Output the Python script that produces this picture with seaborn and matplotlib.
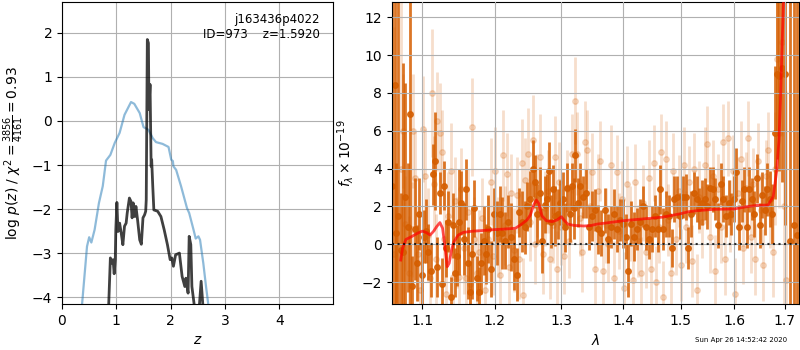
# Redshift fit summary: p(z) on the left, G141 spectrum + best-fit model on the right
import numpy as np
import matplotlib
matplotlib.use('Agg')
import matplotlib.pyplot as plt
from matplotlib.ticker import FixedLocator, FixedFormatter, NullLocator
import seaborn as sns

# p(z) curves
z_prior = [0.33, 0.37, 0.46, 0.50, 0.54, 0.60, 0.68, 0.75, 0.81, 0.89, 0.97, 1.06, 1.15,
           1.27, 1.33, 1.43, 1.50, 1.59, 1.67, 1.73, 1.85, 1.96, 2.01, 2.04, 2.05, 2.10,
           2.19, 2.30, 2.34, 2.42, 2.46, 2.51, 2.54, 2.60, 2.65, 2.69, 2.73]
logp_prior = [-4.6, -4.15, -2.85, -2.64, -2.76, -2.47, -1.86, -1.48, -0.90, -0.77, -0.50,
              -0.27, 0.14, 0.43, 0.39, 0.18, -0.14, -0.20, -0.39, -0.48, -0.52, -0.59,
              -0.88, -0.91, -1.03, -1.11, -1.48, -1.98, -2.09, -2.47, -2.67, -2.62, -2.70,
              -3.23, -3.76, -4.15, -4.6]

z_fit = [0.84, 0.86, 0.89, 0.92, 0.94, 0.96, 0.98, 0.99, 1.01, 1.03, 1.06, 1.09, 1.12,
         1.15, 1.18, 1.20, 1.24, 1.27, 1.29, 1.31, 1.34, 1.36, 1.39, 1.43, 1.46, 1.49,
         1.52, 1.54, 1.55, 1.57, 1.59, 1.60, 1.62, 1.64, 1.65, 1.67, 1.69, 1.76, 1.82,
         1.88, 1.94, 1.99, 2.02, 2.05, 2.09, 2.16, 2.21, 2.26, 2.28, 2.32, 2.34, 2.37,
         2.39, 2.43, 2.48, 2.53, 2.56, 2.59, 2.62]
logp_fit = [-4.8, -4.15, -3.11, -3.23, -3.15, -3.47, -3.15, -2.47, -1.85, -2.51, -2.32,
            -2.55, -2.81, -2.39, -2.32, -2.09, -1.75, -1.83, -2.20, -1.86, -2.17, -1.94,
            -2.24, -2.70, -2.80, -2.20, -2.13, -2.05, -1.79, 1.85, 1.77, 0.26, 0.83,
            -1.03, -0.88, -1.48, -2.02, -2.05, -2.17, -2.47, -2.81, -3.15, -3.11, -3.30,
            -3.04, -3.00, -3.53, -3.76, -3.57, -3.91, -2.62, -2.81, -3.76, -4.15, -4.6,
            -4.15, -3.64, -4.15, -4.6]

# spectrum, binned (dark) points
dark_wave = [1.061, 1.064, 1.066, 1.069, 1.072, 1.075, 1.078, 1.081, 1.084, 1.087, 1.090,
             1.093, 1.096, 1.099, 1.102, 1.105, 1.108, 1.111, 1.114, 1.117, 1.120, 1.123,
             1.126, 1.129, 1.132, 1.135, 1.138, 1.141, 1.144, 1.147, 1.150, 1.153, 1.156,
             1.159, 1.162, 1.165, 1.168, 1.171, 1.174, 1.177, 1.180, 1.184, 1.187, 1.191,
             1.195, 1.199, 1.203, 1.207, 1.211, 1.215, 1.219, 1.223, 1.228, 1.232, 1.236,
             1.240, 1.244, 1.248, 1.252, 1.256, 1.259, 1.263, 1.267, 1.270, 1.274, 1.277,
             1.280, 1.284, 1.287, 1.290, 1.294, 1.298, 1.302, 1.306, 1.309, 1.313, 1.316,
             1.319, 1.322, 1.326, 1.330, 1.334, 1.339, 1.344, 1.349, 1.354, 1.359, 1.364,
             1.369, 1.374, 1.379, 1.384, 1.389, 1.394, 1.399, 1.404, 1.409, 1.414, 1.419,
             1.424, 1.429, 1.434, 1.439, 1.444, 1.449, 1.454, 1.459, 1.464, 1.469, 1.474,
             1.479, 1.484, 1.489, 1.494, 1.499, 1.504, 1.509, 1.514, 1.519, 1.524, 1.529,
             1.534, 1.539, 1.544, 1.549, 1.554, 1.559, 1.564, 1.569, 1.574, 1.579, 1.584,
             1.589, 1.594, 1.599, 1.604, 1.609, 1.614, 1.619, 1.624, 1.629, 1.634, 1.639,
             1.644, 1.649, 1.654, 1.659, 1.664, 1.669, 1.674, 1.679, 1.684, 1.689, 1.694,
             1.700, 1.711, 1.718, 1.725]
dark_flux = [3.1, 8.4, 0.6, 1.5, -0.3, -0.4, 2.5, 0.9, 6.9, -2.2, 0.8,
             -1.0, 1.6, -1.6, 0.4, 0.7, -0.4, -1.4, 3.7, 4.4, -1.2, 2.7,
             -2.1, 3.1, -0.2, 1.2, -2.8, 1.0, -1.5, -0.6, 1.2, 2.2, 0.3,
             2.9, -1.0, -2.5, -0.5, 1.9, -1.8, -2.5, -1.0, 0.2, -0.5, 0.8,
             -1.3, 1.6, 0.6, 1.6, 0.6, 0.2, 1.2, 0.4, -0.8, -1.6, 1.7,
             1.2, 0.9, 2.0, 2.4, 4.0, 3.3, 1.6, 2.7, 0.2, 2.1, 2.4,
             3.9, 1.2, 2.9, 1.5, 1.6, 2.2, 2.4, 0.9, 3.0, 1.6, 3.1,
             1.9, 4.7, 2.2, 3.1, 2.5, 2.7, 0.9, 1.5, 1.8, 0.8, 0.6,
             1.8, 0.3, 0.9, 1.6, 0.8, 1.3, 1.1, 0.4, -1.4, 1.1, 0.4,
             0.8, 1.2, 2.0, 0.9, 0.3, 0.8, 1.5, 0.8, 2.9, 0.8, 1.6,
             1.5, -0.2, 2.4, 2.5, 1.5, 2.5, 2.5, -0.2, 1.6, 2.7, 2.4,
             1.9, 2.2, 2.4, 2.0, 3.0, 2.9, 2.4, 1.0, 3.2, 2.4, 1.5,
             2.2, 1.6, 2.4, 3.8, 0.9, 2.3, 2.9, 0.9, 2.9, 2.4, 1.6,
             3.5, 1.0, 2.6, 1.8, 2.9, 2.4, 1.6, 5.9, 9.0, 8.9, 9.3,
             9.0, 0.2, 1.0, 0.5]
dark_err = [15, 15, 3.7, 15, 3.0, 10, 6, 3.4, 13, 1.6, 2.7,
            2.0, 1.9, 1.6, 1.4, 1.7, 1.5, 1.4, 1.6, 2.6, 1.6, 1.1,
            1.4, 1.3, 1.5, 1.6, 1.1, 1.7, 1.3, 1.6, 2.8, 1.7, 1.9,
            1.6, 1.9, 1.6, 2.4, 1.5, 1.2, 1.3, 1.6, 1.8, 1.6, 1.8,
            1.5, 1.4, 1.7, 1.5, 1.9, 1.5, 1.4, 1.8, 1.6, 1.4, 1.3,
            1.6, 1.4, 1.3, 1.5, 1.5, 1.4, 1.6, 1.4, 1.7, 1.5, 1.3,
            1.5, 1.4, 1.3, 1.6, 1.3, 1.2, 1.4, 1.3, 1.3, 1.5, 1.2,
            1.6, 1.4, 1.3, 1.2, 1.1, 1.3, 1.2, 1.3, 1.1, 1.3, 1.2,
            1.2, 1.3, 1.1, 1.3, 1.2, 1.1, 1.3, 1.2, 1.4, 1.2, 1.3,
            1.1, 1.2, 1.1, 1.2, 1.1, 1.2, 1.1, 1.2, 1.3, 1.1, 1.2,
            1.1, 1.0, 1.2, 1.1, 1.2, 1.1, 1.2, 1.1, 1.2, 1.1, 1.2,
            1.1, 1.2, 1.1, 1.2, 1.1, 1.2, 1.1, 1.2, 1.1, 1.2, 1.1,
            1.2, 1.1, 1.2, 1.3, 1.2, 1.1, 1.2, 1.1, 1.2, 1.1, 1.2,
            1.3, 1.2, 1.2, 1.3, 1.4, 1.5, 1.6, 3.5, 4.5, 5, 6,
            8, 15, 15, 15]

# spectrum, unbinned (light) points
light_wave = [1.063, 1.072, 1.075, 1.078, 1.082, 1.086, 1.088, 1.091, 1.094, 1.097, 1.101,
              1.104, 1.107, 1.110, 1.113, 1.115, 1.118, 1.120, 1.123, 1.126, 1.129, 1.132,
              1.135, 1.138, 1.141, 1.144, 1.147, 1.150, 1.153, 1.156, 1.159, 1.162, 1.165,
              1.168, 1.171, 1.174, 1.178, 1.182, 1.186, 1.190, 1.194, 1.197, 1.200, 1.204,
              1.208, 1.212, 1.215, 1.218, 1.221, 1.224, 1.228, 1.232, 1.236, 1.240, 1.242,
              1.245, 1.249, 1.252, 1.256, 1.259, 1.263, 1.267, 1.271, 1.275, 1.279, 1.283,
              1.287, 1.290, 1.293, 1.296, 1.300, 1.304, 1.308, 1.312, 1.317, 1.321, 1.325,
              1.329, 1.333, 1.337, 1.341, 1.345, 1.349, 1.354, 1.358, 1.362, 1.366, 1.371,
              1.375, 1.380, 1.384, 1.389, 1.393, 1.398, 1.402, 1.407, 1.411, 1.416, 1.420,
              1.425, 1.430, 1.434, 1.439, 1.444, 1.448, 1.452, 1.456, 1.461, 1.465, 1.469,
              1.474, 1.478, 1.483, 1.487, 1.492, 1.497, 1.501, 1.506, 1.510, 1.515, 1.520,
              1.525, 1.529, 1.534, 1.539, 1.544, 1.549, 1.554, 1.559, 1.564, 1.569, 1.574,
              1.578, 1.583, 1.587, 1.592, 1.597, 1.602, 1.607, 1.612, 1.617, 1.622, 1.627,
              1.632, 1.637, 1.641, 1.646, 1.651, 1.656, 1.661, 1.665, 1.670, 1.675, 1.680,
              1.684, 1.689, 1.694, 1.699, 1.702]
light_flux = [-0.5, 4.0, 6.0, 1.1, -1.5, 0.8, 6.0, 3.5, -0.5, -2.4, 6.1,
              3.6, 0.5, -1.8, 8.0, 3.2, -0.8, 6.5, 5.9, 4.9, 0.3, -2.6,
              1.5, 3.9, -1.7, 2.3, 0.1, -1.7, 2.9, -0.2, -1.8, 1.7, -2.1,
              6.2, 0.3, -1.5, -0.4, 1.4, -2.4, 0.3, 3.3, -0.6, 3.9, 0.4,
              -1.6, 4.7, 1.0, 3.7, -1.2, 2.7, -0.3, 2.6, -0.8, 4.3, -2.7,
              3.4, 4.8, 1.2, 5.5, 0.0, 2.6, 4.6, -0.5, 1.9, 2.8, -0.8,
              1.0, 4.6, -1.3, 3.3, 0.9, -0.6, 2.9, 0.2, 4.8, 7.6, 4.8,
              1.4, -0.4, 5.4, 5.0, 2.0, 3.8, -1.3, 2.8, 4.4, -1.4, 1.0,
              0.0, 4.2, -1.8, 3.8, 0.7, 2.4, -2.3, 3.2, 1.1, -1.9, 3.3,
              0.2, -1.5, 2.2, -0.4, 3.5, -1.3, 4.3, -2.0, 0.9, 4.9, -2.8,
              4.5, 1.3, -1.5, 3.9, 0.3, 2.8, -1.1, 4.2, 0.9, 3.3, -0.9,
              4.0, -2.4, 2.5, 1.2, 4.2, 5.3, 0.4, 3.6, -1.4, 2.9, 0.9,
              5.4, -0.8, 5.6, 1.5, 3.9, -2.6, 2.7, 4.5, -0.2, 3.0, 5.6,
              0.4, 3.2, -0.8, 4.4, 1.8, -1.1, 3.6, 5.0, 1.8, -0.4, 4.0,
              9.8, 5.9, 10.7, 2.0, -1.9]
light_err = [12, 9, 3.0, 2.5, 3.0, 2.5, 3.0, 2.5, 2.5, 2.0, 2.8,
             2.5, 2.5, 2.3, 3.4, 2.5, 2.4, 2.6, 2.6, 2.2, 2.4, 2.0,
             2.3, 2.5, 2.2, 2.3, 2.4, 2.1, 2.2, 2.4, 2.0, 2.3, 2.0,
             2.6, 2.2, 2.3, 2.2, 2.1, 2.0, 2.2, 2.3, 2.1, 2.3, 2.1,
             2.0, 2.4, 2.1, 2.2, 2.0, 2.1, 2.2, 2.0, 2.1, 2.3, 2.0,
             2.2, 2.4, 2.1, 2.4, 2.1, 2.2, 2.3, 2.1, 2.0, 2.2, 2.1,
             2.0, 2.2, 2.0, 2.1, 2.0, 2.0, 2.1, 2.0, 2.1, 2.3, 2.2,
             2.0, 2.1, 2.2, 2.1, 2.0, 2.1, 2.0, 2.0, 2.1, 2.0, 2.0,
             2.0, 2.1, 2.0, 2.0, 2.0, 2.0, 1.9, 2.0, 2.0, 1.9, 2.0,
             1.9, 1.9, 2.0, 1.9, 2.0, 1.9, 2.0, 1.9, 1.9, 2.0, 1.9,
             2.0, 1.9, 1.9, 2.0, 1.9, 1.9, 1.9, 2.0, 1.9, 1.9, 1.9,
             1.9, 1.9, 1.9, 1.9, 2.0, 2.0, 1.9, 1.9, 1.9, 1.9, 1.9,
             2.0, 1.9, 2.0, 1.9, 1.9, 1.9, 1.9, 2.0, 1.9, 1.9, 2.0,
             1.9, 1.9, 1.9, 2.0, 1.9, 1.9, 1.9, 2.0, 2.0, 2.4, 3.0,
             4.0, 4.0, 5.0, 8.0, 10.0]

# best-fit model
model_wave = [1.0719, 1.0742, 1.0786, 1.0860, 1.0934, 1.1000, 1.1057, 1.1102, 1.1146,
              1.1190, 1.1235, 1.1271, 1.1303, 1.1334, 1.1361, 1.1393, 1.1425, 1.1485,
              1.1554, 1.1669, 1.1787, 1.2000, 1.2154, 1.2300, 1.2375, 1.2474, 1.2524,
              1.2574, 1.2614, 1.2649, 1.2700, 1.2767, 1.2855, 1.2934, 1.3000, 1.3037,
              1.3100, 1.3195, 1.3354, 1.3461, 1.3569, 1.3843, 1.4000, 1.4397, 1.4687,
              1.5000, 1.5150, 1.5300, 1.5610, 1.6000, 1.6240, 1.6436, 1.6662, 1.6764,
              1.6832, 1.6880, 1.6910, 1.6940, 1.6970, 1.7000]
model_flux = [-0.83, -0.21, 0.26, 0.41, 0.58, 0.70, 0.62, 0.49, 0.67,
              0.93, 1.15, 0.85, -0.12, -1.18, -1.00, -0.30, 0.14, 0.49,
              0.63, 0.69, 0.72, 0.78, 0.81, 0.85, 1.02, 1.29, 1.55,
              2.08, 2.34, 2.17, 1.50, 1.25, 1.20, 1.29, 1.46, 1.29,
              1.07, 1.00, 0.97, 0.99, 1.07, 1.18, 1.25, 1.36, 1.44,
              1.62, 1.73, 1.78, 1.85, 1.87, 1.99, 2.06, 2.08, 2.52,
              3.84, 5.5, 7.6, 10.3, 12.7, 14.5]

timestamp = 'Sun Apr 26 14:52:42 2020'
orange = (0.8352941176470589, 0.3686274509803922, 0.0)

fig = plt.figure(figsize=(8, 3.5), dpi=100)
ax1 = fig.add_axes([0.0775, 0.131, 0.339, 0.863])
ax2 = fig.add_axes([0.4896, 0.131, 0.5094, 0.863])

# left panel: p(z)
sns.lineplot(x=z_prior, y=logp_prior, ax=ax1, color='#1f77b4', alpha=0.5, lw=1.6)
sns.lineplot(x=z_fit, y=logp_fit, ax=ax1, color='k', alpha=0.75, lw=2)
ax1.set_xlim(0, 4.99)
ax1.set_ylim(-4.16, 2.7)
ax1.set_xticks([0, 1, 2, 3, 4])
ax1.set_yticks([-4, -3, -2, -1, 0, 1, 2])
ax1.grid(True)
ax1.set_xlabel('$z$')
ax1.set_ylabel(r'log $p(z)$ / $\chi^2=\frac{3856}{4161}=0.93$')
ax1.text(0.95, 0.965, 'j163436p4022\nID=973    z=1.5920', transform=ax1.transAxes,
         ha='right', va='top', fontsize=8.5)

# right panel: spectrum
ax2.errorbar(light_wave, light_flux, yerr=light_err, fmt='o', color=orange, alpha=0.2,
             ms=4, elinewidth=2, capsize=0, zorder=1)
ax2.errorbar(dark_wave, dark_flux, yerr=dark_err, fmt='o', color=orange, alpha=0.85,
             ms=4, elinewidth=2, capsize=0, zorder=2)
sns.lineplot(x=model_wave, y=model_flux, ax=ax2, color='r', alpha=0.7, lw=2, zorder=3)
ax2.axhline(0, color='k', ls=':', lw=1.5, alpha=0.8, zorder=4)

ax2.set_xscale('log')
ax2.set_xlim(1.0603, 1.7295)
ax2.set_ylim(-3.16, 12.8)
wticks = [1.1, 1.2, 1.3, 1.4, 1.5, 1.6, 1.7]
ax2.xaxis.set_major_locator(FixedLocator(wticks))
ax2.xaxis.set_major_formatter(FixedFormatter(['%.1f' % w for w in wticks]))
ax2.xaxis.set_minor_locator(NullLocator())
ax2.set_yticks([-2, 0, 2, 4, 6, 8, 10, 12])
ax2.set_axisbelow(False)
ax2.grid(True, zorder=5)
ax2.set_xlabel(r'$\lambda$')
ax2.set_ylabel(r'$f_\lambda \times 10^{-19}$')

fig.text(0.984, 0.02, timestamp, ha='right', va='bottom', fontsize=5)

fig.savefig('out.png', dpi=100)
